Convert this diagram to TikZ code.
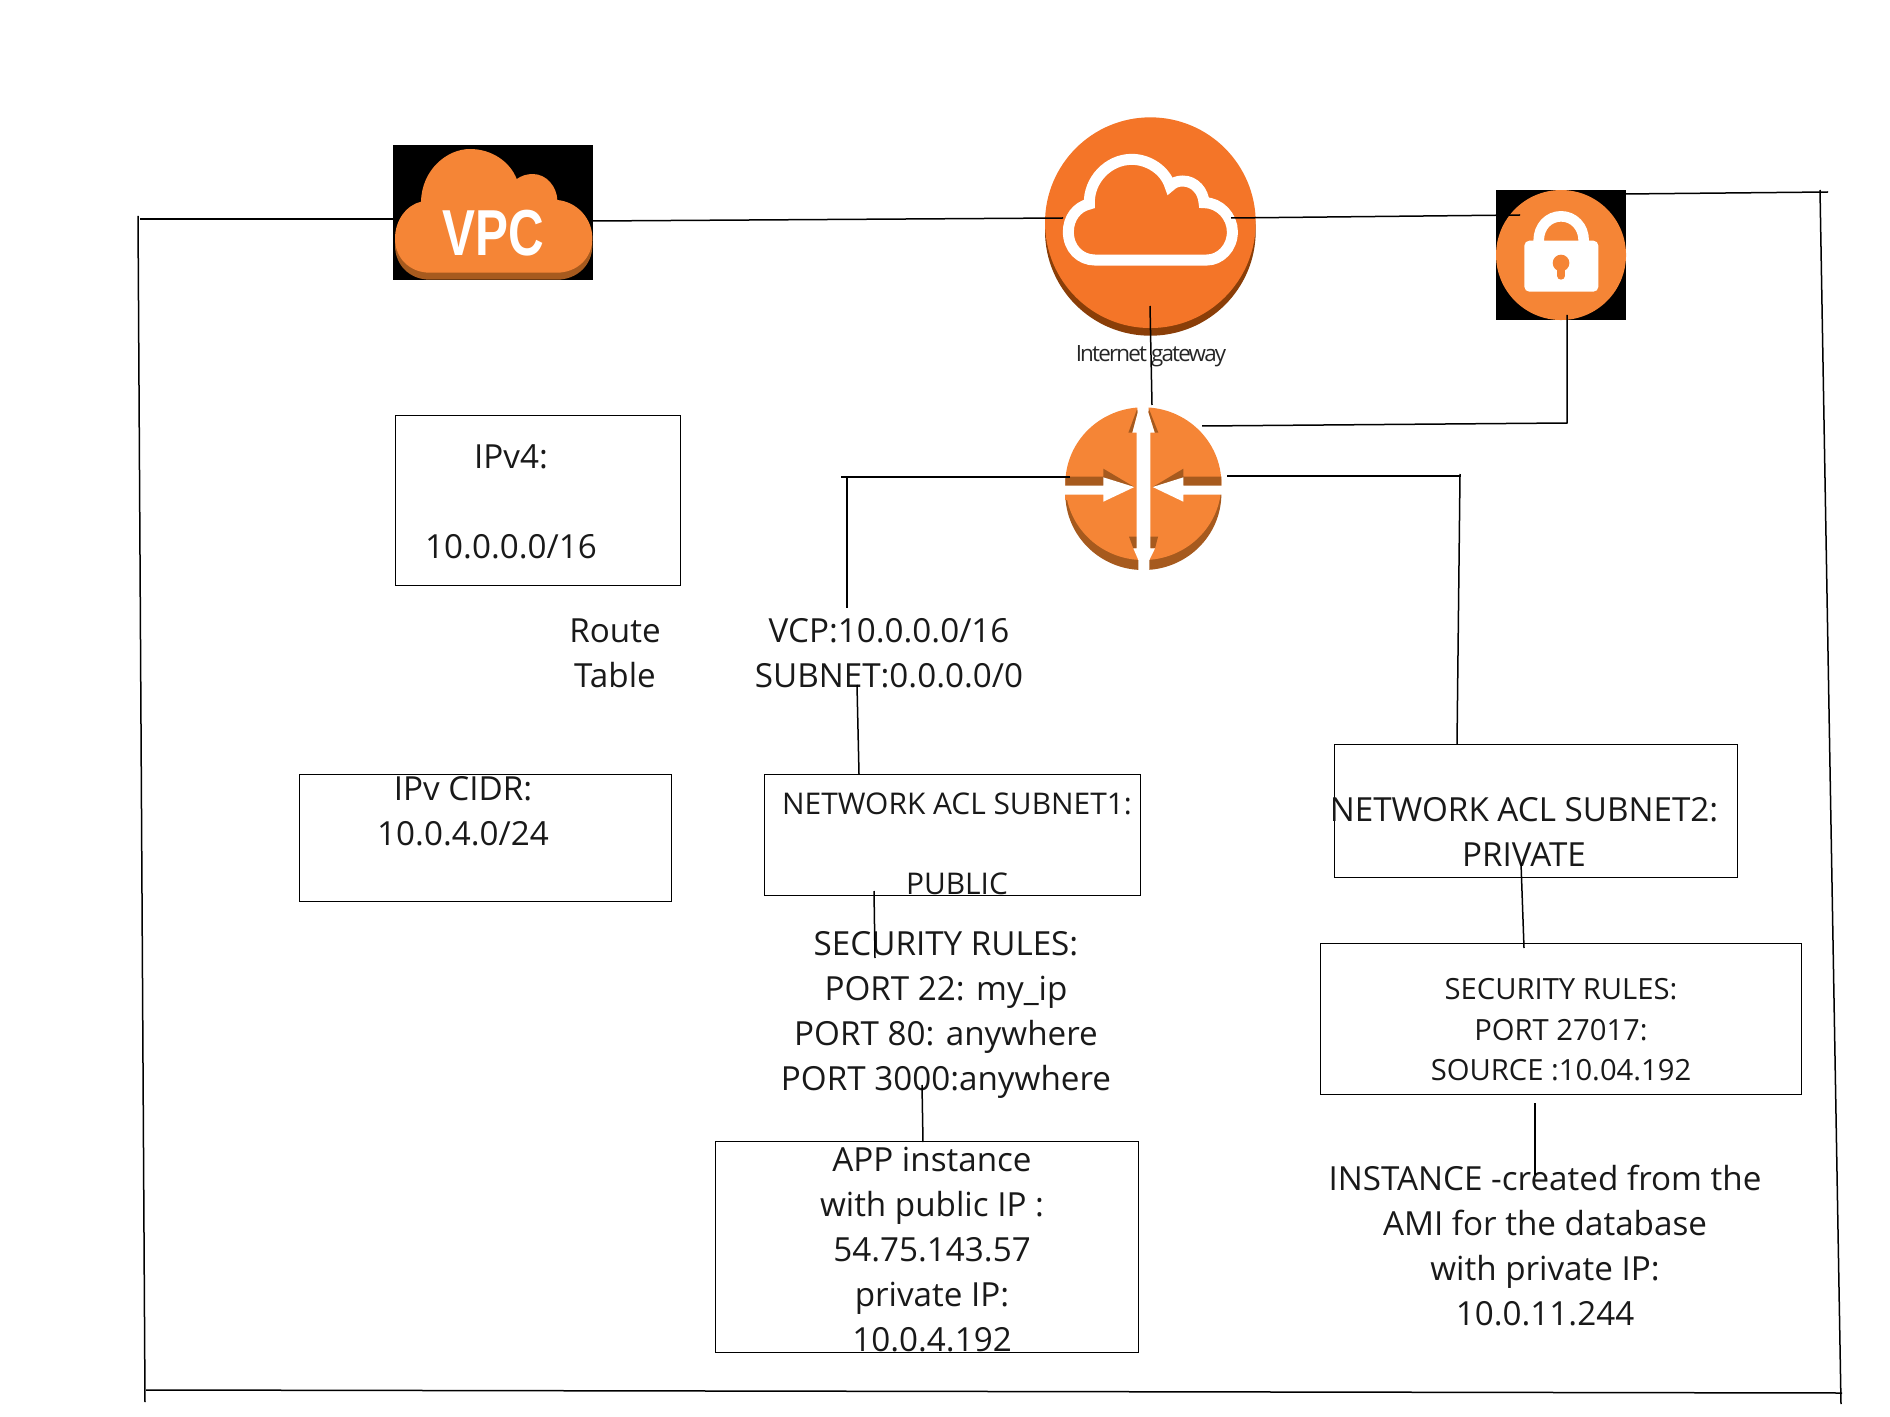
\documentclass[tikz,border=0pt]{standalone}
\usepackage{fontspec}
\setmainfont{Open Sans}
\newfontfamily\vpcfont{Liberation Sans}[BoldFont={Liberation Sans Bold}]
\newfontfamily\tightfont{Open Sans}[LetterSpace=-8]
\definecolor{awsorange}{HTML}{F58536}
\definecolor{awsbrown}{HTML}{A65A1E}
\definecolor{igworange}{HTML}{F47528}
\definecolor{igwbrown}{HTML}{8A3E08}
\tikzset{
  line/.style={draw=black,line width=0.75pt},
  frameline/.style={draw=black,line width=0.75pt},
  labelbox/.style={draw=black,line width=0.4pt,inner sep=0pt,anchor=north west},
  bigtext/.style={align=center,font=\fontsize{16.6}{22.5}\selectfont,inner sep=0pt,text=black!90},
  smalltext/.style={align=center,font=\fontsize{14.95}{20.2}\selectfont,inner sep=0pt,text=black!90},
  sectext/.style={align=center,font=\fontsize{14.6}{20.2}\selectfont,inner sep=0pt,text=black!90}
}
\begin{document}
\begin{tikzpicture}[x=0.5pt,y=-0.5pt]
\useasboundingbox (0,0) rectangle (1890,1417);

% VPC icon
\fill[black] (393,145) rectangle (593,280);
\begin{scope}[shift={(380,130)},x=0.1667pt,y=-0.1667pt]
\def\cloudpath{(45,325) .. controls (45,270) and (80,225) .. (123,215) .. controls (125,120) and (200,57) .. (270,57) .. controls (335,57) and (390,95) .. (410,147) .. controls (425,137) and (440,132) .. (458,132) .. controls (500,132) and (530,170) .. (532,210) .. controls (590,215) and (637,265) .. (637,325) .. controls (637,385) and (590,428) .. (530,428) -- (150,428) .. controls (90,428) and (45,385) .. (45,325) -- cycle}
\fill[awsbrown,yshift=-3.5pt] \cloudpath;
\fill[awsorange] \cloudpath;
\end{scope}
\node[text=white,font=\fontsize{32.5}{32.5}\selectfont\vpcfont\bfseries,xscale=.76,inner sep=0pt] (vpc) at (493,233) {VPC};

% Internet gateway icon
\begin{scope}[shift={(1020,100)},x=0.1667pt,y=-0.1667pt]
\fill[igwbrown] (391,393) ellipse[x radius=316,y radius=314];
\fill[igworange] (391,368) circle[radius=316];
\draw[white,line width=5.5pt] (145,395) .. controls (145,355) and (170,320) .. (208,312) .. controls (205,240) and (265,178) .. (335,178) .. controls (385,178) and (435,210) .. (450,258) .. controls (460,248) and (472,243) .. (488,243) .. controls (525,243) and (550,275) .. (552,308) .. controls (600,308) and (637,350) .. (637,395) .. controls (637,445) and (600,480) .. (560,480) -- (225,480) .. controls (180,480) and (145,445) .. (145,395) -- cycle;
\end{scope}
\node[font=\fontsize{11.2}{12}\selectfont\tightfont,inner sep=0pt,text=black!85] (igwlabel) at (1151,356) {Internet gateway};

% Lock icon
\fill[black] (1496,190) rectangle (1626,320);
\begin{scope}[shift={(1470,170)},x=0.1667pt,y=-0.1667pt]
\fill[awsorange] (273,255) circle[radius=195];
\draw[white,line width=5.3pt] (206,225) -- (206,212) .. controls (206,170) and (235,139) .. (273,139) .. controls (311,139) and (341,170) .. (341,212) -- (341,225);
\fill[white,rounded corners=2.5pt] (163,212) rectangle (385,365);
\fill[awsorange] (273,279) circle[radius=25];
\draw[awsorange,line width=4pt,line cap=round] (273,290) -- (273,317);
\end{scope}

% Router icon
\begin{scope}[shift={(1040,390)},x=0.1667pt,y=-0.1667pt]
\fill[awsbrown] (310,311) ellipse[x radius=234,y radius=229];
\fill[awsorange] (310,281) ellipse[x radius=234,y radius=229];
\fill[awsbrown] (76,260) -- (190,260) -- (190,236) -- (283,291) -- (190,291) -- (76,291) -- cycle;
\fill[awsbrown] (544,260) -- (430,260) -- (430,236) -- (338,291) -- (430,291) -- (544,291) -- cycle;
\fill[awsorange] (76,315) rectangle (190,330);
\fill[white] (60,287) -- (190,287) -- (190,262) -- (283,291) -- (190,335) -- (190,314) -- (60,314) -- cycle;
\fill[white] (560,287) -- (430,287) -- (430,262) -- (338,291) -- (430,335) -- (430,314) -- (560,314) -- cycle;
\fill[awsbrown] (292,55) -- (265,128) -- (277,128) -- (293,68) -- cycle;
\fill[awsbrown] (326,55) -- (355,128) -- (344,128) -- (325,68) -- cycle;
\fill[awsbrown] (267,440) -- (291,440) -- (291,475) -- (280,475) -- cycle;
\fill[awsbrown] (354,440) -- (330,440) -- (330,475) -- (345,475) -- cycle;
\fill[white] (292,40) -- (326,40) -- (326,55) -- (325,68) -- (344,128) -- (331,128) -- (331,475) -- (345,475) -- (328,510) -- (328,550) -- (295,550) -- (295,510) -- (280,475) -- (290,475) -- (290,128) -- (277,128) -- (293,68) -- (292,55) -- cycle;
\end{scope}

% Boxes
\node[labelbox,minimum width=142.5pt,minimum height=85pt] (ipv4box) at (395,415) {};
\node[labelbox,minimum width=186pt,minimum height=63.5pt] (cidrbox) at (299,774) {};
\node[labelbox,minimum width=188pt,minimum height=60.5pt] (acl1box) at (764,774) {};
\node[labelbox,minimum width=201.5pt,minimum height=66.5pt] (acl2box) at (1334,744) {};
\node[labelbox,minimum width=240.5pt,minimum height=75.5pt] (sec2box) at (1320,943) {};
\node[labelbox,minimum width=211.5pt,minimum height=105.5pt] (appbox) at (715,1141) {};

% Texts
\node[bigtext] (ipv4a) at (511,457) {IPv4:};
\node[bigtext] (ipv4b) at (511,547) {10.0.0.0/16};
\node[bigtext] (route) at (615,653) {Route\\Table};
\node[bigtext] (vcp) at (889,653) {VCP:10.0.0.0/16\\SUBNET:0.0.0.0/0};
\node[bigtext] (cidr) at (463,811) {IPv CIDR:\\10.0.4.0/24};
\node[smalltext] (acl1a) at (957,804) {NETWORK ACL SUBNET1:};
\node[smalltext] (acl1b) at (957,884) {PUBLIC};
\node[bigtext] (acl2) at (1524,832) {NETWORK ACL SUBNET2:\\PRIVATE};
\node[bigtext] (sec1) at (946,1015) {SECURITY RULES:\\PORT 22: my\_ip\\PORT 80: anywhere\\PORT 3000:anywhere};
\node[sectext] (sec2) at (1561,1030) {SECURITY RULES:\\PORT 27017:\\SOURCE :10.04.192};
\node[bigtext] (app) at (932,1250) {APP instance\\with public IP :\\54.75.143.57\\private IP:\\10.0.4.192};
\node[bigtext] (inst) at (1545,1246) {INSTANCE -created from the\\AMI for the database\\with private IP:\\10.0.11.244};

% Named free ends
\coordinate (fa) at (138,216); \coordinate (fb) at (145,1402);
\coordinate (fc) at (140,219); \coordinate (fd) at (393,219);
\coordinate (fe) at (593,221); \coordinate (ff) at (1063,218);
\coordinate (fg) at (1231,218); \coordinate (fh) at (1520,215);
\coordinate (fi) at (1624,194); \coordinate (fj) at (1828,192);
\coordinate (fk) at (1820,190); \coordinate (fl) at (1841,1404);
\coordinate (fm) at (146,1390); \coordinate (fn) at (1842,1393);
\coordinate (la) at (1567,315); \coordinate (lb) at (1567,423); \coordinate (lc) at (1202,426);
\coordinate (ga) at (1150,306); \coordinate (gb) at (1152,405);
\coordinate (ra) at (1070,477); \coordinate (rb) at (841,477); \coordinate (rc) at (847,477); \coordinate (rd) at (847,608);
\coordinate (re) at (1227,476); \coordinate (rf) at (1461,476); \coordinate (rg) at (1460,474); \coordinate (rh) at (1457,744);
\coordinate (sa) at (857,685); \coordinate (sb) at (859,774);
\coordinate (sc) at (874,891); \coordinate (sd) at (875,958);
\coordinate (se) at (922,1085); \coordinate (sf) at (923,1142);
\coordinate (sg) at (1521,863); \coordinate (sh) at (1524,948);
\coordinate (si) at (1535,1103); \coordinate (sj) at (1535,1175);

% Connectors
\draw[frameline] (fa) -- (fb);
\draw[frameline] (fc) -- (fd);
\draw[line] (fe) -- (ff);
\draw[line] (fg) -- (fh);
\draw[line] (fi) -- (fj);
\draw[frameline] (fk) -- (fl);
\draw[frameline] (fm) -- (fn);
\draw[line] (la) -- (lb) -- (lc);
\draw[line] (ga) -- (gb);
\draw[line] (ra) -- (rb);
\draw[line] (rc) -- (rd);
\draw[line] (re) -- (rf);
\draw[line] (rg) -- (rh);
\draw[line] (sa) -- (sb);
\draw[line] (sc) -- (sd);
\draw[line] (se) -- (sf);
\draw[line] (sg) -- (sh);
\draw[line] (si) -- (sj);
\end{tikzpicture}
\end{document}
